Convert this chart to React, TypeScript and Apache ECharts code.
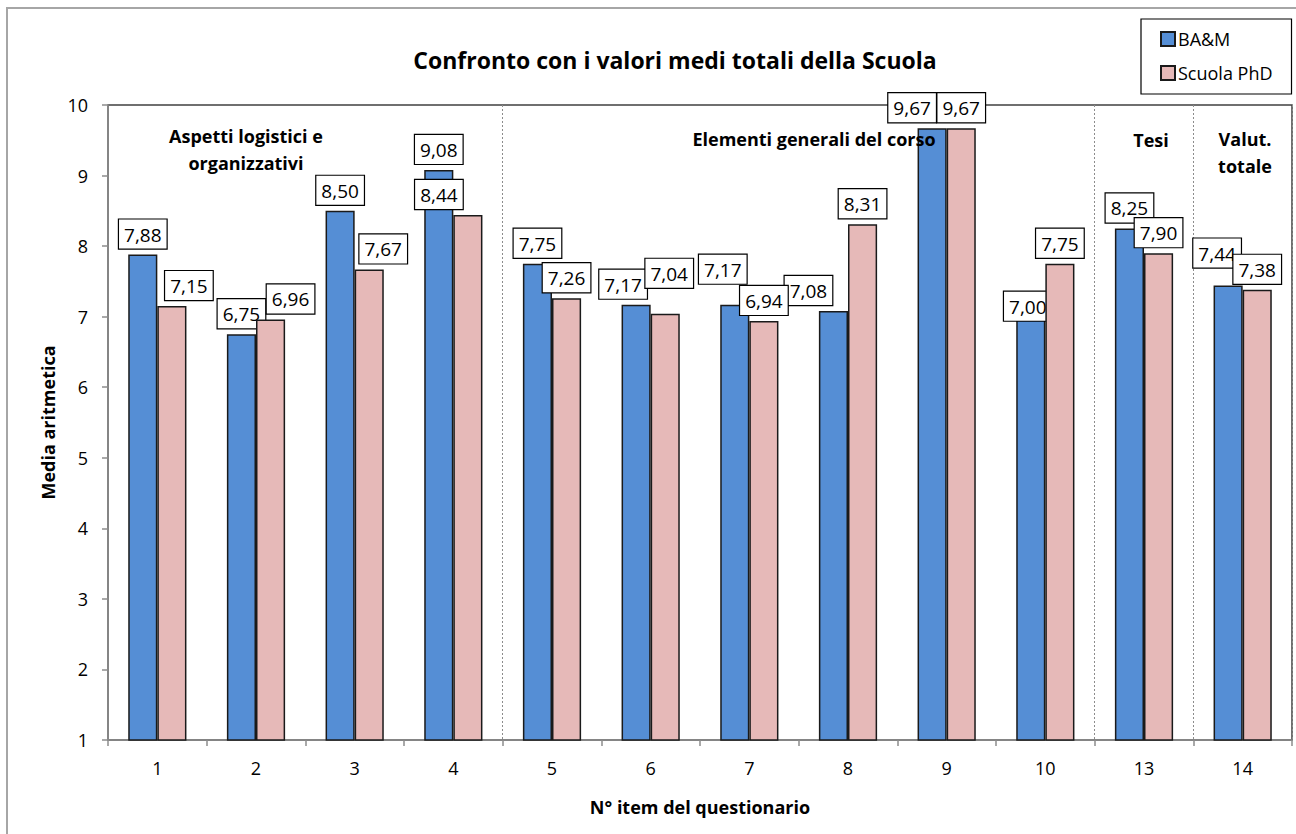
import React, { useEffect, useRef } from "react";
import * as echarts from "echarts";

const categories = ["1", "2", "3", "4", "5", "6", "7", "8", "9", "10", "13", "14"];
const seriesNames = ["BA&M", "Scuola PhD"];
const bamValues = [7.88, 6.75, 8.5, 9.08, 7.75, 7.17, 7.17, 7.08, 9.67, 7.0, 8.25, 7.44];
const phdValues = [7.15, 6.96, 7.67, 8.44, 7.26, 7.04, 6.94, 8.31, 9.67, 7.75, 7.9, 7.38];
const yTicks = { min: 1, max: 10, interval: 1 };
const titleText = "Confronto con i valori medi totali della Scuola";
const yAxisName = "Media aritmetica";
const xAxisName = "N° item del questionario";
const groupLabels = ["Aspetti logistici e\norganizzativi", "Elementi generali del corso", "Tesi", "Valut.\ntotale"];

const FONT = "'Open Sans', 'Noto Sans', sans-serif";

// manual label nudges (as in the original chart), by category index
const bamNudges: Record<number, [number, number]> = {
  5: [-13, 0],
  6: [-12, -15],
  7: [-25, 0],
  8: [-20, 0],
  9: [-3, 10],
  11: [-11, -12],
};
const phdNudges: Record<number, [number, number]> = {
  0: [17, 0],
  1: [20, 0],
  2: [14, 0],
  3: [-29, 0],
  5: [4, -20],
};

const fmt = (v: number) => v.toFixed(2).replace(".", ",");

function buildData(values: number[], nudges: Record<number, [number, number]>) {
  return values.map((v, i) =>
    nudges[i] ? { value: v, label: { offset: nudges[i] } } : { value: v }
  );
}

const labelStyle = {
  show: true,
  position: "top" as const,
  distance: 6,
  formatter: (p: any) => fmt(p.value),
  color: "#000",
  fontFamily: FONT,
  fontSize: 19,
  lineHeight: 22,
  backgroundColor: "#fff",
  borderColor: "#000",
  borderWidth: 1.2,
  padding: [4, 5, 3, 5],
};

export default function App() {
  const ref = useRef<HTMLDivElement>(null);

  useEffect(() => {
    if (!ref.current) return;
    const chart = echarts.init(ref.current, undefined, { renderer: "svg" });
    const boldText = { fontFamily: FONT, fontWeight: "bold", fill: "#000" } as any;
    chart.setOption({
      animation: false,
      backgroundColor: "#fff",
      title: {
        text: titleText,
        left: 670,
        top: 43,
        textAlign: "center",
        textStyle: { fontFamily: FONT, fontSize: 23, fontWeight: "bold", color: "#000" },
      },
      legend: {
        orient: "vertical",
        left: 1141,
        top: 19,
        padding: [11, 19, 12, 19],
        itemGap: 16,
        itemWidth: 14,
        itemHeight: 14,
        icon: "rect",
        borderColor: "#000",
        borderWidth: 1.2,
        backgroundColor: "#fff",
        textStyle: { fontFamily: FONT, fontSize: 18, color: "#000", padding: [0, 0, 0, -2] },
        data: seriesNames,
      },
      grid: {
        left: 108,
        top: 105,
        right: 4,
        bottom: 94,
        show: true,
        borderColor: "#404040",
        borderWidth: 1.5,
        containLabel: false,
      },
      xAxis: {
        type: "category",
        data: categories,
        boundaryGap: true,
        name: xAxisName,
        nameLocation: "middle",
        nameGap: 58,
        nameTextStyle: { fontFamily: FONT, fontSize: 18, fontWeight: "bold", color: "#000" },
        axisLine: { lineStyle: { color: "#8c8c8c", width: 1.5 } },
        axisTick: { show: true, length: 6, lineStyle: { color: "#8c8c8c", width: 1.5 } },
        axisLabel: { fontFamily: FONT, fontSize: 18, color: "#000", margin: 19 },
        splitLine: {
          show: true,
          interval: (index: number) => index === 4 || index === 10 || index === 11,
          lineStyle: { color: "#8c8c8c", type: [2, 2], width: 1 },
        },
      },
      yAxis: {
        type: "value",
        min: yTicks.min,
        max: yTicks.max,
        interval: yTicks.interval,
        name: yAxisName,
        nameLocation: "middle",
        nameGap: 50,
        nameTextStyle: { fontFamily: FONT, fontSize: 18, fontWeight: "bold", color: "#000" },
        axisLine: { show: true, lineStyle: { color: "#8c8c8c", width: 1.5 } },
        axisTick: { show: true, length: 6, lineStyle: { color: "#8c8c8c", width: 1.5 } },
        axisLabel: { fontFamily: FONT, fontSize: 18, color: "#000", margin: 20 },
        splitLine: { show: false },
      },
      series: [
        {
          name: seriesNames[0],
          type: "bar",
          data: buildData(bamValues, bamNudges),
          barGap: "0%",
          barCategoryGap: "41%",
          itemStyle: { color: "#558ED5", borderColor: "#1a1a1a", borderWidth: 1.5 },
          label: labelStyle,
          z: 2,
        },
        {
          name: seriesNames[1],
          type: "bar",
          data: buildData(phdValues, phdNudges),
          barGap: "0%",
          barCategoryGap: "41%",
          itemStyle: { color: "#E6B9B8", borderColor: "#1a1a1a", borderWidth: 1.5 },
          label: labelStyle,
          z: 3,
        },
      ],
      graphic: [
        {
          type: "rect",
          silent: true,
          z: 100,
          shape: { x: 7, y: 8, width: 1310, height: 850 },
          style: { fill: "none", stroke: "#A6A6A6", lineWidth: 2 },
        },
        {
          type: "text",
          z: 100,
          x: 246,
          y: 149,
          style: { ...boldText, text: groupLabels[0], fontSize: 18, lineHeight: 27, align: "center", verticalAlign: "middle" },
        },
        {
          type: "text",
          z: 100,
          x: 814,
          y: 139,
          style: { ...boldText, text: groupLabels[1], fontSize: 18, align: "center", verticalAlign: "middle" },
        },
        {
          type: "text",
          z: 100,
          x: 1151,
          y: 140,
          style: { ...boldText, text: groupLabels[2], fontSize: 18, align: "center", verticalAlign: "middle" },
        },
        {
          type: "text",
          z: 100,
          x: 1245,
          y: 152,
          style: { ...boldText, text: groupLabels[3], fontSize: 18, lineHeight: 27, align: "center", verticalAlign: "middle" },
        },
      ],
    });
    return () => chart.dispose();
  }, []);

  return (
    <div
      ref={ref}
      style={{ position: "fixed", left: 0, top: 0, width: 1296, height: 834, background: "#fff" }}
    />
  );
}
